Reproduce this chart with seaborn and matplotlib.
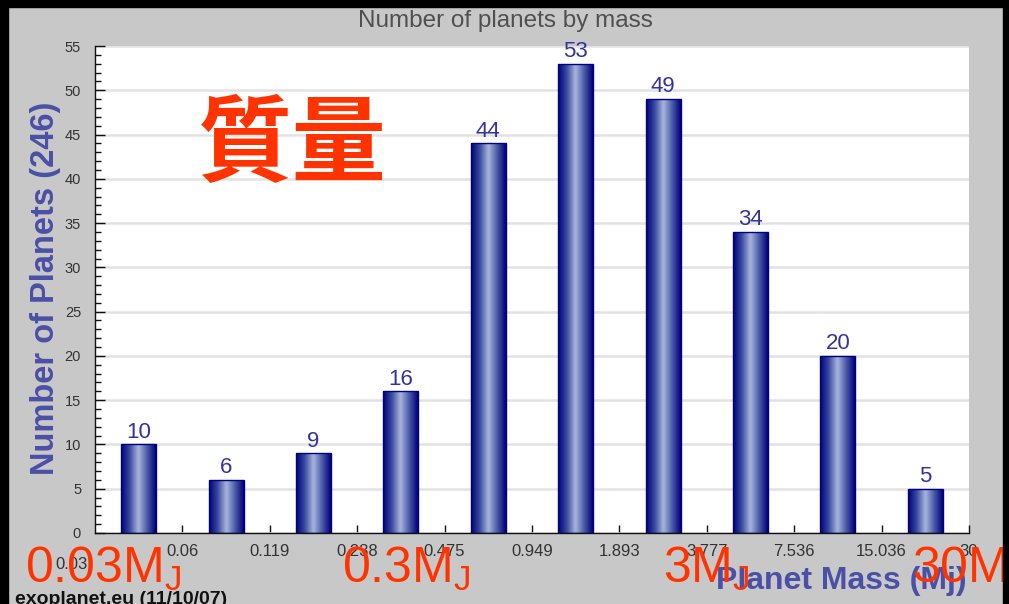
import numpy as np
import pandas as pd
import matplotlib
matplotlib.use("Agg")
import matplotlib.pyplot as plt
import seaborn as sns
from matplotlib.colors import LinearSegmentedColormap
from matplotlib.patches import Rectangle
from matplotlib.ticker import MultipleLocator

# Mass bin edges (Jupiter masses) and planet counts per bin
bin_edges = ["0.03", "0.06", "0.119", "0.238", "0.475", "0.949",
             "1.893", "3.777", "7.536", "15.036", "30"]
counts = [10, 6, 9, 16, 44, 53, 49, 34, 20, 5]
bin_names = [f"{a}-{b}" for a, b in zip(bin_edges[:-1], bin_edges[1:])]

# Reference marks printed below the axis
mass_marks = ["0.03", "0.3", "3", "30"]

sns.set_theme(style="white")
plt.rcParams["font.family"] = ["Liberation Sans", "DejaVu Sans"]
plt.rcParams["mathtext.fontset"] = "custom"
plt.rcParams["mathtext.rm"] = "Liberation Sans"
plt.rcParams["mathtext.it"] = "Liberation Sans"

W, H = 1009, 604
fig = plt.figure(figsize=(W / 100, H / 100), dpi=100, facecolor="#c8c8c8")
ax = fig.add_axes([95 / W, 1 - 533 / H, 874 / W, 487 / H])
ax.set_facecolor("white")

df = pd.DataFrame({"bin": bin_names, "count": counts})
sns.barplot(data=df, x="bin", y="count", order=bin_names, width=0.4,
            color="#000080", edgecolor="#000080", linewidth=1.0,
            saturation=1, ax=ax, zorder=3)

# Metallic-looking horizontal gradient inside each bar
grad_cmap = LinearSegmentedColormap.from_list(
    "bar", ["#000078", "#3a4aa0", "#a8b6dc", "#4a5aa8", "#000078"])
grad = np.linspace(0, 1, 256).reshape(1, -1)
for p in ax.patches:
    x0, y0 = p.get_x(), p.get_y()
    w, h = p.get_width(), p.get_height()
    im = ax.imshow(grad, cmap=grad_cmap, aspect="auto",
                   extent=(x0, x0 + w, y0, y0 + h), zorder=2.5,
                   interpolation="bicubic")
    im.set_clip_path(p)
    p.set_facecolor("none")

ax.set_xlim(-0.5, 9.5)
ax.set_ylim(0, 55)

# Value labels above bars
for i, c in enumerate(counts):
    ax.text(i, c + 0.2, str(c), ha="center", va="bottom",
            fontsize=16, color="#33339a", zorder=4)

# Axes styling
ax.yaxis.set_major_locator(MultipleLocator(5))
ax.yaxis.set_minor_locator(MultipleLocator(1))
ax.grid(axis="y", which="major", color="#e2e2e2", linewidth=1.8, zorder=0)
ax.set_axisbelow(True)
for s in ["top", "right"]:
    ax.spines[s].set_visible(False)
for s in ["left", "bottom"]:
    ax.spines[s].set_color("#111111")
    ax.spines[s].set_linewidth(1.0)
ax.tick_params(axis="y", which="major", direction="in", length=7, width=1,
               color="#111111", labelsize=10.5, labelcolor="#333333", pad=10,
               left=True)
ax.tick_params(axis="y", which="minor", direction="in", length=4, width=1,
               color="#111111", left=True)
ax.set_xticks(np.arange(0.5, 10, 1.0))
ax.set_xticklabels(bin_edges[1:])
ax.tick_params(axis="x", which="major", direction="in", length=6, width=1,
               color="#111111", labelsize=12, labelcolor="#333333", pad=8,
               bottom=True)
ax.set_xlabel("")
ax.set_ylabel("")
ax.text(-0.5 - 0.27, -3.6, bin_edges[0], ha="center", va="center",
        fontsize=12, color="#333333", clip_on=False)

# Titles and axis captions
fig.text(505 / W, 1 - 21 / H, "Number of planets by mass", ha="center",
         va="center", fontsize=17.5, color="#505050",
         family=["Liberation Sans Narrow", "Liberation Sans", "DejaVu Sans"])
fig.text(46 / W, 1 - 288 / H, "Number of Planets (246)", rotation=90,
         ha="center", va="center", fontsize=23.5, fontweight="bold",
         color="#4b50a6")
fig.text(967 / W, 1 - 581 / H, "Planet Mass (Mj)", ha="right", va="center",
         fontsize=23, fontweight="bold", color="#4b50a6")
fig.text(15 / W, 1 - 604 / H, "exoplanet.eu (11/10/07)", ha="left",
         va="baseline", fontsize=14, fontweight="bold", color="#111111")

# Red annotations
red = "#ff3300"
fig.text(292 / W, 1 - 146 / H, "質量", ha="center", va="center",
         fontsize=68, fontweight="bold", color=red,
         family=["Noto Sans CJK JP", "DejaVu Sans"], zorder=5)
mark_x = [25, 342, 663, 912]
for m, x in zip(mass_marks, mark_x):
    fig.text(x / W, 1 - 583 / H, rf"$\mathrm{{{m}M}}_\mathrm{{J}}$",
             ha="left", va="baseline", fontsize=36, color=red, zorder=5)

# Dark frame around the panel
for rect in [(0, 0, 8 / W, 1), (0, 1 - 7 / H, 1, 7 / H),
             (1003 / W, 0, 6 / W, 1)]:
    fig.patches.append(Rectangle(rect[:2], rect[2], rect[3],
                                 transform=fig.transFigure, color="black",
                                 zorder=20))

fig.savefig("out.png", dpi=100, facecolor=fig.get_facecolor())
